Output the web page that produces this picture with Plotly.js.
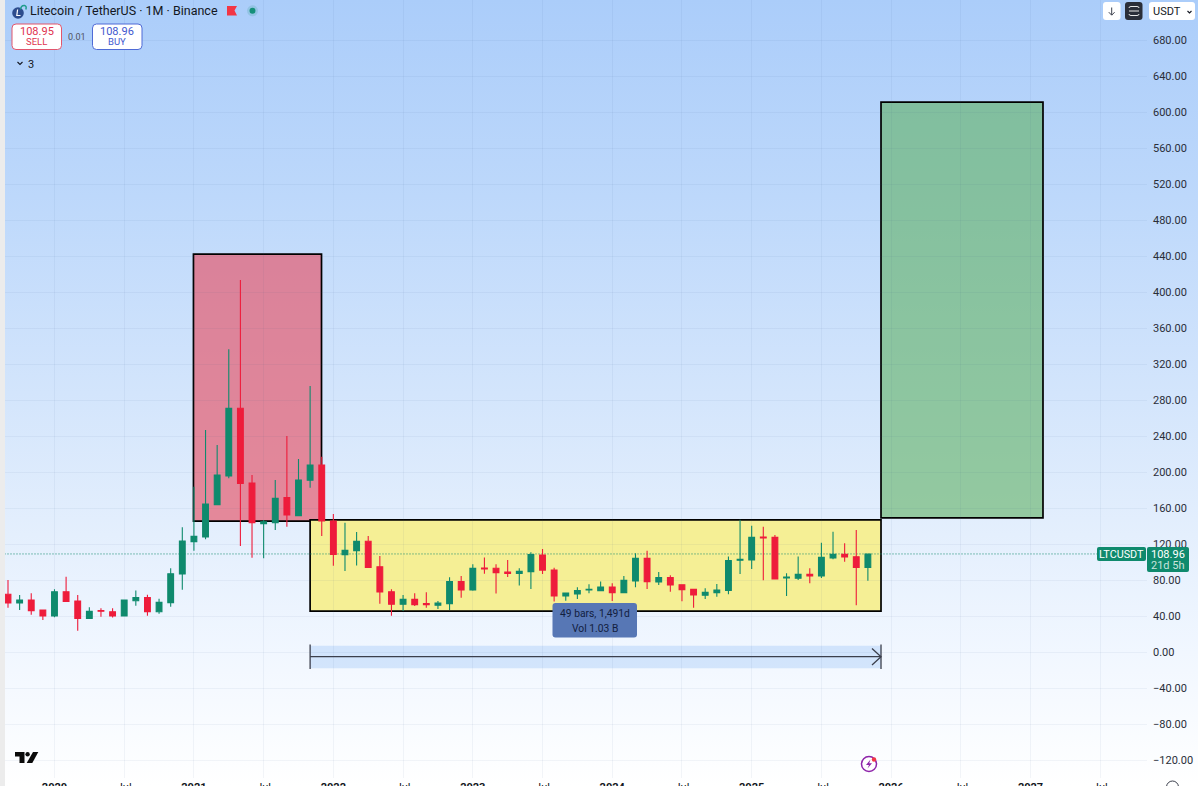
<!DOCTYPE html>
<html>
<head>
<meta charset="utf-8">
<script src="https://cdn.plot.ly/plotly-3.0.1.min.js"></script>
<style>
html,body{margin:0;padding:0;width:1200px;height:786px;overflow:hidden;background:#fff}
#bg{position:absolute;left:5px;top:0;width:1193px;height:786px;background:linear-gradient(180deg,#abcdfa 0%,#bdd8fb 25%,#d3e5fc 50%,#e4effd 68%,#f1f7ff 83%,#ffffff 100%)}
#edge{position:absolute;left:0;top:0;width:5px;height:786px;background:#ececec}
#chart{position:absolute;left:0;top:0;width:1200px;height:786px}
</style>
</head>
<body>
<div id="edge"></div><div id="bg"></div><div id="chart"></div>
<script>
const months = ["2019-09","2019-10","2019-11","2019-12",
"2020-01","2020-02","2020-03","2020-04","2020-05","2020-06","2020-07","2020-08","2020-09","2020-10","2020-11","2020-12",
"2021-01","2021-02","2021-03","2021-04","2021-05","2021-06","2021-07","2021-08","2021-09","2021-10","2021-11","2021-12",
"2022-01","2022-02","2022-03","2022-04","2022-05","2022-06","2022-07","2022-08","2022-09","2022-10","2022-11","2022-12",
"2023-01","2023-02","2023-03","2023-04","2023-05","2023-06","2023-07","2023-08","2023-09","2023-10","2023-11","2023-12",
"2024-01","2024-02","2024-03","2024-04","2024-05","2024-06","2024-07","2024-08","2024-09","2024-10","2024-11","2024-12",
"2025-01","2025-02","2025-03","2025-04","2025-05","2025-06","2025-07","2025-08","2025-09","2025-10","2025-11"];
const opens = [64.1,54.5,57.8,46.7,
40,67,56.7,37.4,46,44.8,40,57,60.4,44.8,54.9,86.7,
122.6,127.8,163.7,195.6,270.8,187.8,142.6,143.7,171.5,151.5,190.8,207.8,
145.6,108.2,112.6,123,94.8,67,53,58.5,53.7,51.9,53.7,78.2,
68.9,93.3,93,88.9,87.4,89.3,107.8,91,62.2,64.4,69,68.2,
72.2,66,79,104,77.8,82.6,74.8,69.6,63,66,68.5,101.9,
102.2,127.8,127.4,82.2,81.9,86.3,84.4,104.4,108.5,105.9,94];
const highs = [80,63.4,65.2,47,
69.7,83.7,63.4,49.7,48.5,48.5,58,68.2,63.7,59.3,93,138.6,
183.7,246.7,230,336.3,413.4,196.7,146.7,191,240,214.5,295.6,217,
153.3,143.7,133.3,129,106.7,69.6,63.3,65.2,66.3,56.7,83,84.4,
97.4,105,97.4,102.2,93,110.7,114.4,93.7,66,71.9,75.2,78.2,
76.3,84.4,109.6,112.6,88.9,85.2,75,70,70.7,75.6,106,147,
140.4,139.3,130,87.4,106,93,121.5,133.7,120.7,135.6,108.96];
const lows = [49.3,46.7,41.5,35.6,
38.5,56,23.7,36.7,39.3,38.2,40,51.5,40.4,42.6,50.4,69.3,
112.4,125.2,163,193,117.8,104.8,104.1,135.6,139.3,151,182.6,128.9,
95.9,90,96,94,53.7,40.4,45.6,51.1,49.3,47.8,46.7,60.4,
68,87,65,83.3,74,70,86.7,56,57,58.9,65.2,68,
56.7,65.6,71.9,70,74.4,67,56.3,49.3,58.9,61.5,64.1,86.7,
92.2,79.6,81,62.2,80,76.3,82.2,103,100.4,51.9,79.3];
const closes = [54.5,57.8,45.9,40,
67,56.3,37.4,45.2,45.2,40,57.8,60.4,44.8,55.2,87,123.4,
128.5,164.5,196.7,270.8,187.4,143.7,144.8,170.8,152.3,191,207.8,145.6,
108.5,113,123,94,66.7,53,58.5,52.6,52.6,54.4,78.2,68.9,
93,92.2,88,87.4,89.6,108.2,91,62.2,65.6,68.2,69.6,72.2,
66,79.6,104,78.2,82.6,74.4,69.3,63.3,66.3,68.9,101.5,103,
127.4,126.7,81.1,83.3,86.3,84.4,105.2,108.5,105.6,94,108.96];
const barIndex = months.map((m,i)=>i);

const tickBars = [4,10,16,22,28,34,40,46,52,58,64,70,76,82,88,94];
const tickLabels = ["<b>2020</b>","Jul","<b>2021</b>","Jul","<b>2022</b>","Jul","<b>2023</b>","Jul","<b>2024</b>","Jul","<b>2025</b>","Jul","<b>2026</b>","Jul","<b>2027</b>","Jul"];
const priceTicks = [-120,-80,-40,0,40,80,120,160,200,240,280,320,360,400,440,480,520,560,600,640,680];

const lastPrice = 108.96;
const redZone = {x:[15.96,26.98], y:[145.5,442]};
const rangeZone = {x:[26,75.13], y:[45.5,146.7]};
const targetZone = {x:[75.13,89.07], y:[149,611]};
const measureBand = {x:[26,75.13], y:[-18,7], line:-5.2};

const UP='#0f8a6d', DOWN='#ee1c3b', BORDER='#000000';
const L=5,R=1147,B=778;
const px=x=>(x-L)/(R-L), py=y=>(B-y)/B;
const P=(s)=>s.replace(/(-?[\d.]+),(-?[\d.]+)/g,(m,a,b)=>px(+a)+','+py(+b));
const pixPath=(d,fill,line,w)=>({type:'path',xref:'paper',yref:'paper',path:P(d),fillcolor:fill||'rgba(0,0,0,0)',line:{color:line||'rgba(0,0,0,0)',width:w||0},layer:'above'});
const rr=(x0,y0,x1,y1,r)=>`M${x0+r},${y0} L${x1-r},${y0} Q${x1},${y0} ${x1},${y0+r} L${x1},${y1-r} Q${x1},${y1} ${x1-r},${y1} L${x0+r},${y1} Q${x0},${y1} ${x0},${y1-r} L${x0},${y0+r} Q${x0},${y0} ${x0+r},${y0} Z`;
const circ=(cx,cy,r,fill,line,w)=>({type:'circle',xref:'paper',yref:'paper',x0:px(cx-r),x1:px(cx+r),y0:py(cy+r),y1:py(cy-r),fillcolor:fill||'rgba(0,0,0,0)',line:{color:line||'rgba(0,0,0,0)',width:w||0},layer:'above'});
const box=(z,fill)=>({type:'rect',xref:'x',yref:'y',x0:z.x[0],x1:z.x[1],y0:z.y[0],y1:z.y[1],fillcolor:fill,line:{color:BORDER,width:1.7},layer:'below'});
const FONT='Roboto, "Liberation Sans", sans-serif';
const ann=(text,x,y,size,color,anchor,extra)=>Object.assign({text,xref:'paper',yref:'paper',x:px(x),y:py(y),xanchor:anchor||'left',yanchor:'middle',showarrow:false,font:{family:FONT,size,color},borderpad:0},extra||{});

const shapes=[
  box(redZone,'rgba(229,84,103,0.66)'),
  box(rangeZone,'#f5ef95'),
  box(targetZone,'rgba(95,176,98,0.60)'),
  {type:'line',xref:'x',yref:'y',x0:-0.3,x1:(1097-8)/11.62,y0:lastPrice,y1:lastPrice,line:{color:UP,width:1,dash:'1px,2px'},layer:'below'},
  {type:'rect',xref:'x',yref:'y',x0:measureBand.x[0],x1:measureBand.x[1],y0:measureBand.y[0],y1:measureBand.y[1],fillcolor:'rgba(120,175,245,0.26)',line:{width:0},layer:'below'},
  {type:'line',xref:'x',yref:'y',x0:measureBand.x[0],x1:measureBand.x[1],y0:measureBand.line,y1:measureBand.line,line:{color:'#3b3f4c',width:1.3},layer:'below'},
  {type:'line',xref:'x',yref:'y',x0:measureBand.x[0],x1:measureBand.x[0],y0:8.3,y1:-19,line:{color:'#3b3f4c',width:1.3},layer:'below'},
  {type:'line',xref:'x',yref:'y',x0:measureBand.x[1],x1:measureBand.x[1],y0:8.3,y1:-19,line:{color:'#3b3f4c',width:1.3},layer:'below'},
  pixPath('M872,648.5 L881,656.7 L872,665','', '#3b3f4c',1.3),
  // measure tooltip
  pixPath(rr(552.5,603,637,637.5,3),'#5777b5'),
  // header: coin icon
  circ(18,13,5.8,'#2d4d8e'),
  pixPath('M20.5,9.5 Q21,5.2 24.5,5.5 Q27,6.2 25.8,9.5','', '#1f9c8c',1.5),
  pixPath('M17.6,9.5 L16.8,15.5 L20.5,15.5','', '#ffffff',1.2),
  // flag and status dot
  pixPath('M227,6 L237,6 L234.5,10.5 L237,15.5 L227,15.5 Z','#f23645'),
  circ(252.5,10.8,5.5,'rgba(20,140,120,0.16)'),
  circ(252.5,10.8,3,'#15907a'),
  // sell / buy
  pixPath(rr(12,24,61.5,49.5,4),'#ffffff','#e2566d',1),
  pixPath(rr(92.5,24,142,49.5,4),'#ffffff','#4f6bd6',1),
  pixPath('M17.5,62 L20,64.5 L22.5,62','', '#131722',1.1),
  // top-right buttons
  pixPath(rr(1103,2,1120.5,20,3),'#ffffff'),
  pixPath('M1111.7,7.5 L1111.7,15 M1108.8,12.2 L1111.7,15.2 L1114.6,12.2','', '#3b3f4c',1),
  pixPath(rr(1125,2,1142.5,20,3),'#2a2e39'),
  pixPath('M1129,8 Q1129,6.5 1131,6.5 L1137,6.5 Q1139,6.5 1139,8 M1129,11 L1139,11 M1129,14 Q1129,15.5 1131,15.5 L1137,15.5 Q1139,15.5 1139,14','', '#e8e8e8',1),
  pixPath(rr(1149,2,1195,20,3),'#ffffff'),
  pixPath('M1187.5,11 L1189.5,13 L1191.5,11','', '#131722',1.1),
  // price labels
  pixPath(rr(1097,547,1146,561,2),UP),
  pixPath(rr(1147,547,1189,572,2),UP),
  // TradingView logo
  pixPath('M15,752 L24.5,752 L24.5,763 L19.5,763 L19.5,756.5 L15,756.5 Z','#0b0b0b'),
  circ(27.6,754.3,2.2,'#0b0b0b'),
  pixPath('M33,752 L38.3,752 L32.3,763 L26.7,763 Z','#0b0b0b'),
  // lightning badge
  circ(869,764,7.5,'#ffffff','#8e24aa',1.5),
  pixPath('M870.5,759.5 L866,765 L869,765 L867.5,768.5 L872,763.2 L869.2,763.2 Z','#8e24aa'),
  circ(874,759.5,2.2,'#f23645'),
  // settings glyph, cropped by the page bottom
  circ(1172.5,787,6,'rgba(0,0,0,0)','#3b3f4c',1)
];

const annotations=[
  ann('Litecoin / TetherUS · 1M · Binance',29,11,12.5,'#131722'),
  ann('108.95',36.7,31,11,'#e0334f','center'),
  ann('SELL',36.7,42,9.5,'#e0334f','center'),
  ann('0.01',77,37.5,9,'#50535e','center'),
  ann('108.96',117.2,31,11,'#3f58cf','center'),
  ann('BUY',117.2,42,9.5,'#3f58cf','center'),
  ann('3',27.5,64,11,'#131722'),
  ann('USDT',1152,11.5,11,'#131722'),
  ann('49 bars, 1,491d',594.7,613,10.3,'#12203f','center'),
  ann('Vol 1.03 B',594.7,628,10.3,'#12203f','center'),
  ann('LTCUSDT',1121.5,554.5,10.8,'#ffffff','center'),
  ann('108.96',1168,554.5,11,'#ffffff','center'),
  ann('21d 5h',1168,565,11,'rgba(255,255,255,0.78)','center')
];

const trace={type:'candlestick',x:barIndex,open:opens,high:highs,low:lows,close:closes,
  increasing:{line:{color:UP,width:1.1},fillcolor:UP},
  decreasing:{line:{color:DOWN,width:1.1},fillcolor:DOWN},
  whiskerwidth:0,hoverinfo:'skip',showlegend:false};

const GRID='rgba(50,80,130,0.06)';
const layout={
  width:1200,height:786,
  margin:{l:L,r:1200-R,t:0,b:786-B,pad:0},
  paper_bgcolor:'rgba(0,0,0,0)',plot_bgcolor:'rgba(0,0,0,0)',
  showlegend:false,dragmode:false,boxgap:0.29,
  xaxis:{type:'linear',range:[(L-8)/11.62,(R-8)/11.62],rangeslider:{visible:false},
    tickmode:'array',tickvals:tickBars,ticktext:tickLabels,showgrid:true,gridcolor:GRID,gridwidth:1,
    zeroline:false,showline:false,ticks:'',ticklabelstandoff:1,tickangle:0,
    tickfont:{family:FONT,size:11,color:'#131722'}},
  yaxis:{type:'linear',side:'right',range:[(652-B)/0.9,652/0.9],tickmode:'array',tickvals:priceTicks,
    ticktext:priceTicks.map(v=>(v<0?'−':'')+Math.abs(v).toFixed(2)),
    showgrid:true,gridcolor:GRID,gridwidth:1,zeroline:false,showline:false,ticks:'',ticklabelstandoff:5,
    tickfont:{family:FONT,size:11,color:'#2a2e39'}},
  shapes,annotations
};
Plotly.newPlot('chart',[trace],layout,{staticPlot:true,displayModeBar:false});
</script>
</body>
</html>
